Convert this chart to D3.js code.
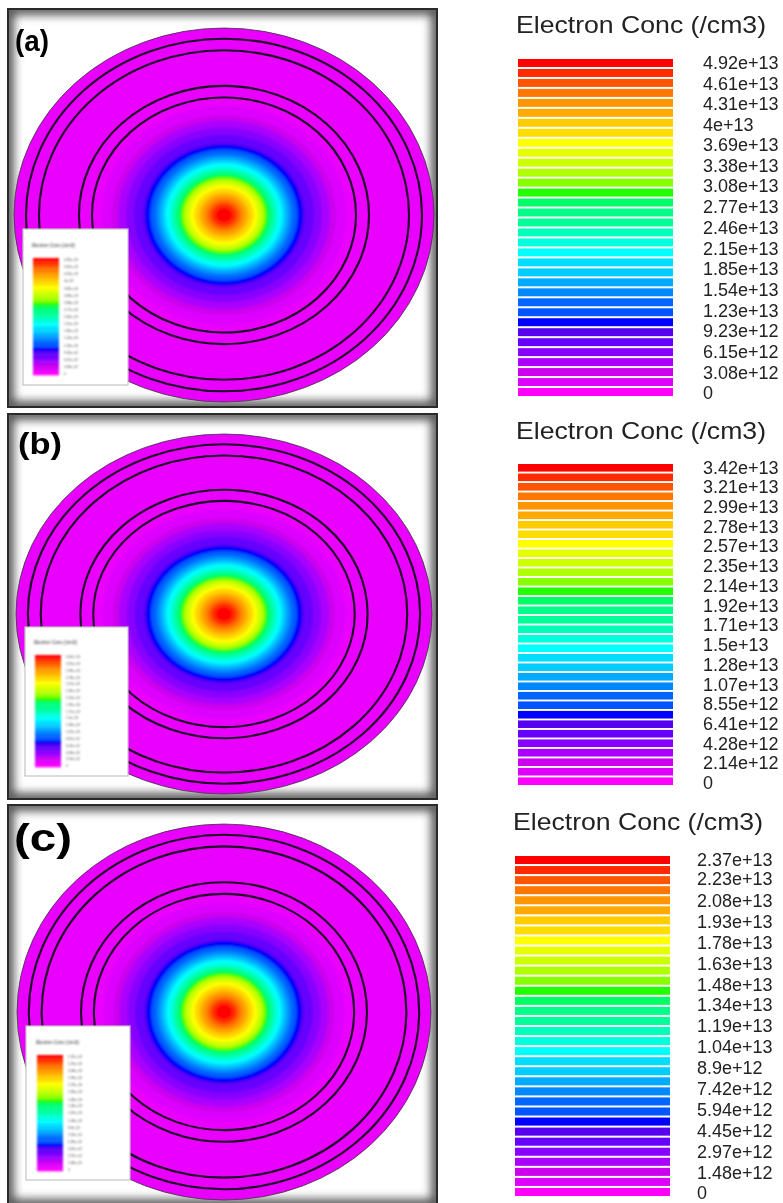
<!DOCTYPE html>
<html>
<head>
<meta charset="utf-8">
<script src="https://cdn.jsdelivr.net/npm/d3@7"></script>
<style>
  body { margin: 0; background: #fff; }
  svg { display: block; }
  text { font-family: "Liberation Sans", Arial, sans-serif; }
</style>
</head>
<body>
<svg width="783" height="1203"></svg>
<script>
const legendTitle = "Electron Conc (/cm3)";

const labelsA = ["4.92e+13","4.61e+13","4.31e+13","4e+13","3.69e+13","3.38e+13","3.08e+13","2.77e+13","2.46e+13","2.15e+13","1.85e+13","1.54e+13","1.23e+13","9.23e+12","6.15e+12","3.08e+12","0"];
const labelsB = ["3.42e+13","3.21e+13","2.99e+13","2.78e+13","2.57e+13","2.35e+13","2.14e+13","1.92e+13","1.71e+13","1.5e+13","1.28e+13","1.07e+13","8.55e+12","6.41e+12","4.28e+12","2.14e+12","0"];
const labelsC = ["2.37e+13","2.23e+13","2.08e+13","1.93e+13","1.78e+13","1.63e+13","1.48e+13","1.34e+13","1.19e+13","1.04e+13","8.9e+12","7.42e+12","5.94e+12","4.45e+12","2.97e+12","1.48e+12","0"];

// colour bands, highest concentration first
const bandColors = ["#ff0000","#ff2a00","#ff5500","#ff7700","#ff9500","#ffaa00","#ffcc00","#ffdd00","#ffff00","#e6ff00","#ccff00","#b0ff00","#88ff00","#22ff00","#00ff66","#00ff88","#00ff99","#00ffbb","#00ffdd","#00ffff","#00ddff","#00ccff","#00aaff","#0088ff","#0066ff","#0055ff","#0000ff","#5500ee","#6600ff","#8800ff","#aa00ff","#cc00ee","#dd00ff","#ff00ff"];

// outer radius of each band on the wafer, in the units of panel (a), read along x
const bandRadii = [8,12,15,18,21,24,27,30,33,35.5,38,40,42,44,46,48,50,52,55,58,60,62,65,68,71,74,79,81,90,98,106,112,122];
// the four black rings, same units
const ringRadii = [198,185,145,132];
const diskRadius = 210;
const diskColor = "#e900ff";

// page layout of the three panels
const panels = [
  {letter:"(a)", labels:labelsA, frame:[8,9,429,398],  cx:224, cy:215,  rx:210, ry:187,
   letterAt:[15,51],  letterSize:30, letterLen:34,
   box:[23,229,105,156], miniTitleY:247, mini:[33,258,375],
   titleX:516, titleY:33,  bar:[518,673,59,396],  labelX:703, labelY:[62.3,393]},
  {letter:"(b)", labels:labelsB, frame:[8,414,429,385], cx:224, cy:614,  rx:208, ry:180,
   letterAt:[18,454], letterSize:30, letterLen:44,
   box:[25,627,103,149], miniTitleY:644, mini:[35,655,767],
   titleX:516, titleY:439, bar:[518,673,464,785], labelX:703, labelY:[467.3,782.7]},
  {letter:"(c)", labels:labelsC, frame:[8,805,429,400], cx:224, cy:1012, rx:207, ry:188,
   letterAt:[14,851], letterSize:38, letterLen:58,
   box:[26,1026,104,154], miniTitleY:1044, mini:[37,1055,1171],
   titleX:513, titleY:830, bar:[515,670,856,1196], labelX:697, labelY:[859.3,1193]}
];

const svg = d3.select("svg");
const defs = svg.append("defs");

function blur(id, dev) {
  defs.append("filter").attr("id", id)
      .attr("x", "-10%").attr("y", "-10%").attr("width", "120%").attr("height", "120%")
    .append("feGaussianBlur").attr("stdDeviation", dev);
}
blur("soft", 0.55);
blur("softer", 1.0);
blur("bands", 1.0);
blur("edge", 5);

panels.forEach((p, i) => {
  const [fx, fy, fw, fh] = p.frame;
  const g = svg.append("g").attr("filter", "url(#soft)");

  // frame with its inner shadow
  defs.append("clipPath").attr("id", "clip" + i)
    .append("rect").attr("x", fx).attr("y", fy).attr("width", fw).attr("height", fh);
  g.append("rect").attr("x", fx).attr("y", fy).attr("width", fw).attr("height", fh).attr("fill", "#fff");
  g.append("g").attr("clip-path", `url(#clip${i})`)
    .append("rect").attr("x", fx).attr("y", fy).attr("width", fw).attr("height", fh)
      .attr("fill", "none").attr("stroke", "#555").attr("stroke-width", 12)
      .attr("filter", "url(#edge)");

  // wafer: radial units to pixels, x and y differ because the picture is squashed
  const rx = d3.scaleLinear().domain([0, diskRadius]).range([0, p.rx]);
  const ry = d3.scaleLinear().domain([0, diskRadius]).range([0, p.ry]);

  g.append("ellipse")
      .attr("cx", p.cx).attr("cy", p.cy)
      .attr("rx", rx(diskRadius)).attr("ry", ry(diskRadius))
      .attr("fill", diskColor).attr("stroke", "#3a3a3a").attr("stroke-width", 0.8);

  const bands = bandRadii.map((r, k) => ({r, color: bandColors[k]}));
  g.append("g").attr("filter", "url(#bands)")
    .selectAll("ellipse")
    .data(bands.slice().reverse())
    .enter().append("ellipse")
      .attr("cx", p.cx).attr("cy", p.cy)
      .attr("rx", d => rx(d.r)).attr("ry", d => ry(d.r))
      .attr("fill", d => d.color);

  g.selectAll(".ring" + i)
    .data(ringRadii)
    .enter().append("ellipse")
      .attr("class", "ring" + i)
      .attr("cx", p.cx).attr("cy", p.cy)
      .attr("rx", d => rx(d)).attr("ry", d => ry(d))
      .attr("fill", "none").attr("stroke", "#1c0a24").attr("stroke-width", 2.1);

  g.append("rect")
      .attr("x", fx).attr("y", fy).attr("width", fw).attr("height", fh)
      .attr("fill", "none").attr("stroke", "#2b2b2b").attr("stroke-width", 2);

  // the little legend pasted over the wafer
  const [bx, by, bw, bh] = p.box;
  g.append("rect").attr("x", bx).attr("y", by).attr("width", bw).attr("height", bh)
      .attr("fill", "#fff").attr("stroke", "#c4c4c4").attr("stroke-width", 1.2);

  const mini = svg.append("g").attr("filter", "url(#softer)");
  const [mx, mTop, mBottom] = p.mini;
  const miniY = d3.scaleBand().domain(bandColors).range([mTop, mBottom]);
  mini.selectAll("rect")
    .data(bandColors)
    .enter().append("rect")
      .attr("x", mx).attr("y", d => miniY(d))
      .attr("width", 26).attr("height", miniY.bandwidth() + 0.3)
      .attr("fill", d => d);
  mini.append("text").attr("x", mx - 1).attr("y", p.miniTitleY)
      .attr("font-size", 4.8).attr("fill", "#333").attr("textLength", 43)
      .text(legendTitle);
  const miniLabelY = d3.scaleLinear().domain([0, +p.labels[0]]).range([mBottom - 1, mTop + 2]);
  mini.selectAll(".mini-label")
    .data(p.labels)
    .enter().append("text")
      .attr("class", "mini-label")
      .attr("x", mx + 31).attr("y", d => miniLabelY(+d))
      .attr("dy", "0.35em")
      .attr("font-size", 3.3).attr("fill", "#444")
      .text(d => d);

  // panel letter
  g.append("text")
      .attr("x", p.letterAt[0]).attr("y", p.letterAt[1])
      .attr("font-size", p.letterSize).attr("font-weight", "bold")
      .attr("textLength", p.letterLen).attr("lengthAdjust", "spacingAndGlyphs")
      .attr("fill", "#000")
      .text(p.letter);

  // big legend on the right
  const lg = svg.append("g").attr("filter", "url(#soft)");
  const [x0, x1, yTop, yBottom] = p.bar;

  lg.append("text")
      .attr("x", p.titleX).attr("y", p.titleY)
      .attr("font-size", 24).attr("fill", "#222")
      .attr("textLength", 250).attr("lengthAdjust", "spacingAndGlyphs")
      .text(legendTitle);

  const y = d3.scaleBand().domain(bandColors).range([yTop, yBottom]).paddingInner(0.2).paddingOuter(0);
  lg.selectAll("rect")
    .data(bandColors)
    .enter().append("rect")
      .attr("x", x0).attr("y", d => y(d))
      .attr("width", x1 - x0).attr("height", y.bandwidth())
      .attr("fill", d => d);

  const labelY = d3.scaleLinear().domain([0, +p.labels[0]]).range([p.labelY[1], p.labelY[0]]);
  lg.selectAll(".label")
    .data(p.labels)
    .enter().append("text")
      .attr("class", "label")
      .attr("x", p.labelX).attr("y", d => labelY(+d))
      .attr("dy", "0.36em")
      .attr("font-size", 18).attr("fill", "#222")
      .text(d => d);
});
</script>
</body>
</html>
